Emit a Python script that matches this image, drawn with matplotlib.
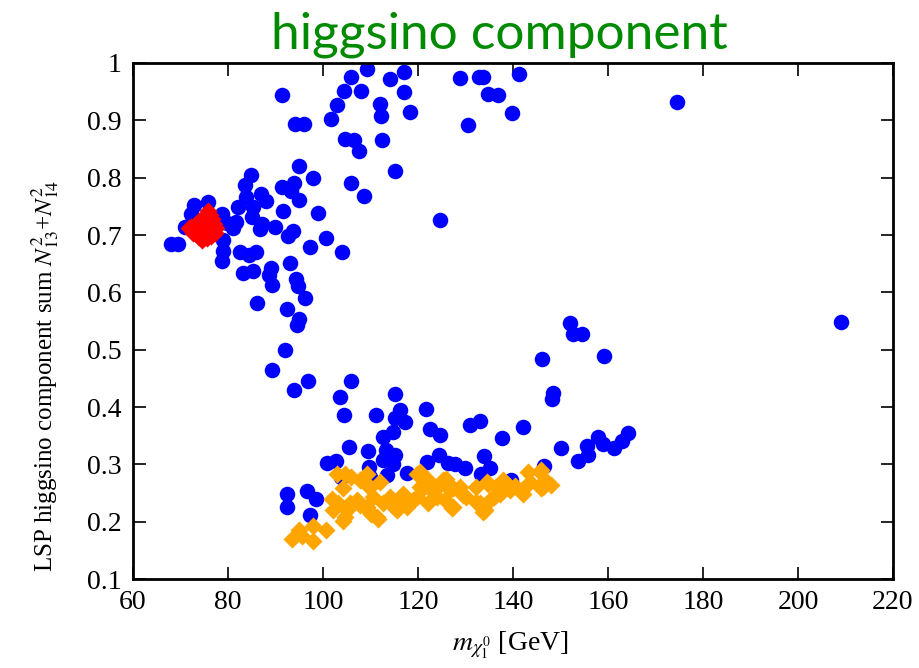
import matplotlib
matplotlib.use("Agg")
import matplotlib.pyplot as plt

# ---- data ----
blue_x = [91.3, 94.2, 96.0, 95.0, 97.8, 84.8, 83.6, 91.3, 93.8, 93.3, 95.0, 83.7, 87.0, 88.0,
          82.2, 85.2, 85.0, 91.6, 98.9, 78.7, 81.7, 81.1, 79.7, 87.2, 86.7, 89.9, 93.6, 92.7,
          100.6, 97.3, 104.1, 72.8, 75.7, 72.3, 71.0, 67.9, 69.5, 79.0, 78.9, 78.7, 82.5, 84.5,
          85.8, 93.1, 83.2, 85.3, 89.1, 88.7, 89.3, 94.3, 94.8, 96.2, 86.1, 92.5, 94.9, 94.5,
          92.1, 89.3, 96.8, 93.9, 106.0, 103.6, 104.4, 111.1, 105.5, 109.5, 100.8, 102.7, 109.6,
          103.8, 92.4, 92.4, 96.6, 98.5, 97.3,
          109.2, 106.0, 104.4, 107.9, 102.9, 101.6, 112.1, 112.2, 104.6, 106.5, 107.6, 112.5,
          105.8, 108.6, 114.1, 117.1, 117.1, 118.3, 115.2, 124.6, 128.9, 132.8, 133.7, 134.8,
          136.9, 130.6, 139.8, 141.3, 174.5, 209.1,
          152.0, 152.7, 154.6, 146.2, 159.2, 148.5, 148.3, 115.2, 121.6, 116.2, 115.2, 117.3,
          114.8, 112.7, 122.5, 124.6, 130.9, 133.1, 137.6, 142.2, 113.3, 115.2, 112.7, 114.8,
          109.9, 113.4, 117.6, 121.8, 124.5, 126.4, 127.8, 129.8, 133.9, 135.2, 133.3, 139.5,
          146.5, 150.2, 153.7, 155.5, 155.8, 157.8, 159.0, 161.3, 162.9, 164.3]
blue_y = [0.944, 0.894, 0.894, 0.821, 0.799, 0.804, 0.787, 0.783, 0.791, 0.777, 0.761, 0.766, 0.771, 0.760,
          0.749, 0.749, 0.732, 0.742, 0.738, 0.736, 0.722, 0.712, 0.721, 0.719, 0.711, 0.714, 0.707, 0.698,
          0.695, 0.679, 0.670, 0.752, 0.758, 0.736, 0.714, 0.685, 0.685, 0.691, 0.672, 0.655, 0.671, 0.665,
          0.671, 0.651, 0.634, 0.637, 0.642, 0.631, 0.612, 0.623, 0.611, 0.590, 0.582, 0.571, 0.554, 0.543,
          0.500, 0.465, 0.446, 0.429, 0.446, 0.418, 0.386, 0.386, 0.330, 0.323, 0.302, 0.306, 0.296,
          0.278, 0.249, 0.226, 0.254, 0.239, 0.211,
          0.989, 0.975, 0.952, 0.951, 0.927, 0.903, 0.929, 0.907, 0.867, 0.866, 0.847, 0.865,
          0.791, 0.768, 0.972, 0.985, 0.949, 0.914, 0.812, 0.727, 0.974, 0.976, 0.976, 0.946,
          0.944, 0.891, 0.912, 0.980, 0.932, 0.548,
          0.546, 0.527, 0.527, 0.483, 0.489, 0.424, 0.414, 0.422, 0.397, 0.394, 0.380, 0.373,
          0.357, 0.348, 0.362, 0.351, 0.368, 0.376, 0.346, 0.365, 0.325, 0.316, 0.307, 0.301,
          0.278, 0.281, 0.285, 0.304, 0.316, 0.303, 0.300, 0.294, 0.314, 0.293, 0.283, 0.273,
          0.297, 0.329, 0.305, 0.332, 0.316, 0.347, 0.336, 0.329, 0.340, 0.354]

orange_x = [93.4, 95.0, 95.5, 98.0, 98.0, 100.6, 101.8, 103.2, 102.2, 104.6, 104.3, 105.7,
            102.9, 104.6, 106.0, 107.8, 109.2, 104.3, 107.8, 109.5, 111.3, 109.5, 112.0,
            105.0, 107.1, 109.2, 110.6, 110.2, 111.6, 112.7, 114.8, 115.5, 116.9, 118.3, 119.7,
            120.4, 122.2, 121.1, 123.2, 124.6, 125.7, 126.0, 114.1, 109.9, 115.2, 116.9, 117.6,
            119.7, 120.4, 119.0, 122.2, 123.9, 125.3, 126.7, 127.4, 128.8, 130.2, 132.3, 133.1,
            134.1, 134.8, 135.9, 136.5, 138.0, 139.4, 141.8, 143.2, 143.6, 146.0, 146.4, 148.1,
            142.2, 145.7, 146.7, 146.0, 133.7, 127.1, 132.3, 135.2, 137.3, 138.7, 140.4, 127.4,
            129.5, 134.5]
orange_y = [0.169, 0.185, 0.175, 0.193, 0.166, 0.185, 0.239, 0.232, 0.220, 0.208, 0.202, 0.232,
            0.284, 0.284, 0.278, 0.272, 0.284, 0.258, 0.229, 0.220, 0.208, 0.263, 0.269,
            0.220, 0.237, 0.226, 0.243, 0.214, 0.205, 0.232, 0.232, 0.220, 0.237, 0.232, 0.243,
            0.287, 0.272, 0.258, 0.252, 0.266, 0.237, 0.275, 0.243, 0.261, 0.223, 0.249, 0.226,
            0.284, 0.261, 0.237, 0.232, 0.243, 0.272, 0.255, 0.226, 0.261, 0.243, 0.261, 0.232,
            0.220, 0.266, 0.243, 0.261, 0.272, 0.255, 0.255, 0.287, 0.269, 0.290, 0.261, 0.264,
            0.249, 0.287, 0.272, 0.258, 0.217, 0.223, 0.234, 0.237, 0.249, 0.266, 0.263, 0.258,
            0.246, 0.269]

red_x = [75.8, 75.5, 76.0, 74.8, 74.0, 73.2, 72.2, 73.0, 74.0, 75.0, 76.2, 77.0, 76.8, 75.8,
         74.8, 73.8, 74.5, 75.5, 76.5, 77.2, 75.2, 74.6, 76.2, 73.5, 71.8, 72.6, 77.4, 76.6]
red_y = [0.742, 0.735, 0.728, 0.730, 0.725, 0.720, 0.714, 0.708, 0.712, 0.718, 0.715, 0.720,
         0.708, 0.702, 0.700, 0.696, 0.692, 0.694, 0.698, 0.704, 0.708, 0.722, 0.735, 0.702,
         0.712, 0.704, 0.712, 0.728]

x_ticks = [60, 80, 100, 120, 140, 160, 180, 200, 220]
y_ticks = [0.1, 0.2, 0.3, 0.4, 0.5, 0.6, 0.7, 0.8, 0.9, 1]
y_tick_labels = ["0.1", "0.2", "0.3", "0.4", "0.5", "0.6", "0.7", "0.8", "0.9", "1"]

# ---- figure ----
plt.rcParams['mathtext.fontset'] = 'stix'
serif = 'Liberation Serif'

fig = plt.figure(figsize=(9.19, 6.68), dpi=100)
ax = fig.add_axes([0.1447, 0.1332, 0.8270, 0.7725])

ax.scatter(blue_x, blue_y, s=125, marker='o', color='#0000ff', linewidths=0, zorder=2)
ax.scatter(orange_x, orange_y, s=85, marker='D', color='#ffa500', linewidths=0, zorder=3)
ax.scatter(red_x, red_y, s=85, marker='D', color='#ff0000', linewidths=0, zorder=4)

ax.set_xlim(60, 220)
ax.set_ylim(0.1, 1.0)
ax.set_xticks(x_ticks)
ax.set_yticks(y_ticks)
ax.set_yticklabels(y_tick_labels)
ax.tick_params(direction='in', length=9, width=1.2, top=True, right=True,
               labelsize=20, pad=8)
for lab in ax.get_xticklabels() + ax.get_yticklabels():
    lab.set_fontfamily(serif)
for sp in ax.spines.values():
    sp.set_linewidth(2.0)

fig.text(0.555, 1 - 645 / 668, r'$m_{\chi_1^0}$ [GeV]', fontsize=20, fontfamily=serif,
         ha='center', va='center')
fig.text(45 / 919, 1 - 376 / 668, r'LSP higgsino component sum $N_{13}^2$+$N_{14}^2$',
         fontsize=18, fontfamily=serif, rotation=90, ha='center', va='center')

fig.text(0.543, 0.948, 'higgsino component', color='#008a00', fontsize=37,
         fontfamily='Lato', ha='center', va='center')

fig.savefig('out.png', dpi=100)
